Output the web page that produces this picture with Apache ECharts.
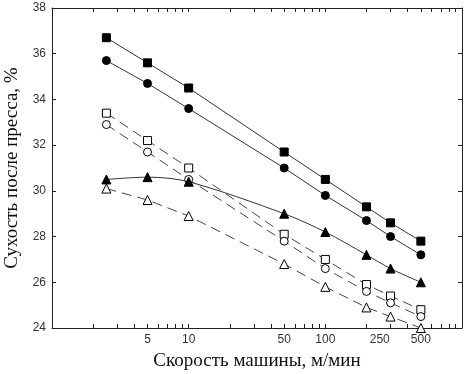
<!DOCTYPE html>
<html>
<head>
<meta charset="utf-8">
<script src="https://cdn.jsdelivr.net/npm/echarts@6/dist/echarts.min.js"></script>
<style>
  html, body { margin: 0; padding: 0; background: #fff; }
  #chart { width: 467px; height: 374px; }
</style>
</head>
<body>
<div id="chart"></div>
<script>
// скорость машины, м/мин
const speed = [2.5, 5, 10, 50, 100, 200, 300, 500]
// сухость после пресса, %
const filledSquare = [36.7, 35.6, 34.5, 31.7, 30.5, 29.3, 28.6, 27.8]
const filledCircle = [35.7, 34.7, 33.6, 31.0, 29.8, 28.7, 28.0, 27.2]
const openSquare = [33.4, 32.2, 31.0, 28.1, 27.0, 25.9, 25.4, 24.8]
const openCircle = [32.9, 31.7, 30.5, 27.8, 26.6, 25.6, 25.1, 24.5]
const filledTriangle = [30.5, 30.6, 30.4, 29.0, 28.2, 27.2, 26.6, 26.0]
const openTriangle = [30.1, 29.6, 28.9, 26.8, 25.8, 24.9, 24.5, 24.0]

const xLabels = [5, 10, 50, 100, 250, 500]
const xTicks = [2, 3, 4, 5, 6, 7, 8, 9, 10, 20, 30, 40, 50, 60, 70, 80, 90, 100,
  200, 300, 400, 500, 600, 700, 800, 900]

const pairs = (ys) => speed.map((x, i) => [x, ys[i]])

var myChart = echarts.init(document.getElementById('chart'))

const lineColor = '#333'
const mkSeries = (name, ys, symbol, filled, dashed, size, smooth) => ({
  name: name,
  type: 'line',
  data: pairs(ys),
  symbol: symbol,
  symbolSize: size,
  smooth: smooth || false,
  lineStyle: {
    color: dashed ? '#444' : lineColor,
    width: 1,
    type: dashed ? [10, 6] : 'solid',
  },
  itemStyle: {
    color: filled ? '#000' : '#fff',
    borderColor: '#000',
    borderWidth: 1,
  },
  emphasis: { disabled: true },
  z: 3,
})

const axisLine = { show: true, lineStyle: { color: '#222', width: 1 } }
const tickStyle = { color: '#222' }

const option = {
  animation: false,
  grid: { left: 52, right: 5, top: 8, bottom: 46, containLabel: false, outerBoundsMode: 'none' },
  xAxis: [
    {
      type: 'log',
      logBase: 10,
      min: 1,
      max: 1000,
      name: 'Скорость машины, м/мин',
      nameLocation: 'middle',
      nameGap: 24,
      nameTextStyle: { fontFamily: 'Liberation Serif', fontSize: 19, color: '#111' },
      axisLine: axisLine,
      axisTick: { show: true, inside: true, length: 4, customValues: xTicks, lineStyle: tickStyle },
      axisLabel: { customValues: xLabels, fontFamily: 'Liberation Sans', fontSize: 12, color: '#333', margin: 6 },
      splitLine: { show: false },
    },
    {
      type: 'log',
      logBase: 10,
      min: 1,
      max: 1000,
      position: 'top',
      axisLine: axisLine,
      axisTick: { show: true, inside: true, length: 4, customValues: xTicks, lineStyle: tickStyle },
      axisLabel: { show: false },
      splitLine: { show: false },
    },
  ],
  yAxis: [
    {
      type: 'value',
      min: 24,
      max: 38,
      interval: 2,
      name: 'Сухость после пресса, %',
      nameLocation: 'middle',
      nameGap: 30,
      nameTextStyle: { fontFamily: 'Liberation Serif', fontSize: 19, color: '#111' },
      axisLine: axisLine,
      axisTick: { show: true, inside: true, length: 4, lineStyle: tickStyle },
      axisLabel: { fontFamily: 'Liberation Sans', fontSize: 12, color: '#333', margin: 6 },
      splitLine: { show: false },
    },
    {
      type: 'value',
      min: 24,
      max: 38,
      interval: 2,
      position: 'right',
      axisLine: axisLine,
      axisTick: { show: true, inside: true, length: 4, lineStyle: tickStyle },
      axisLabel: { show: false },
      splitLine: { show: false },
    },
  ],
  series: [
    mkSeries('filledSquare', filledSquare, 'rect', true, false, 8),
    mkSeries('filledCircle', filledCircle, 'circle', true, false, 8),
    mkSeries('openSquare', openSquare, 'rect', false, true, 8),
    mkSeries('openCircle', openCircle, 'circle', false, true, 8),
    mkSeries('filledTriangle', filledTriangle, 'triangle', true, false, 9, 0.3),
    mkSeries('openTriangle', openTriangle, 'triangle', false, true, 9),
  ],
}

option && myChart.setOption(option)
</script>
</body>
</html>
